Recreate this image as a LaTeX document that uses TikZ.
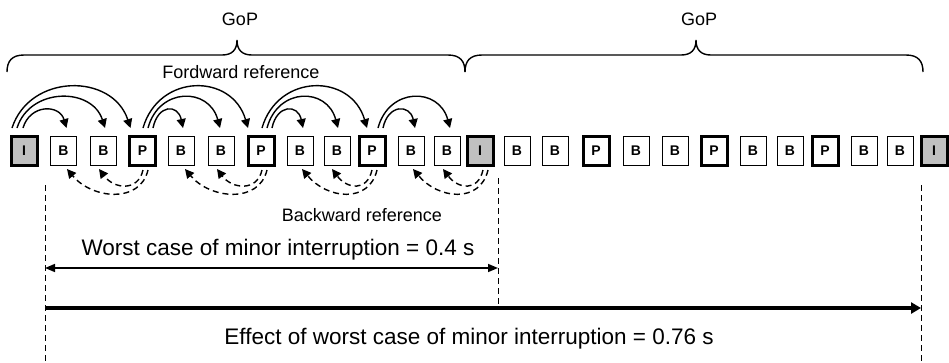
\documentclass[tikz,border=0pt]{standalone}
\usepackage{fontspec}
\setmainfont{Liberation Sans}
\usetikzlibrary{arrows.meta,calc}
\definecolor{igray}{RGB}{192,192,192}

% forward reference arc: source, start shift, target, end shift, control dx, control height
\newcommand\fwdarc[6]{\draw[fwd] ($(#1)+(#2,-23)$) .. controls +(#5,-#6) and +(-#5,-#6) .. ($(#3)+(#4,-23)$);}
% backward reference arc: source, start shift, target, end shift, first control, second control
\newcommand\bwdarc[8]{\draw[bwd] ($(#1)+(#2,19)$) .. controls +(#5,#6) and +(#7,#8) .. ($(#3)+(#4,18)$);}

\begin{document}
\begin{tikzpicture}[x=1pt,y=-1pt,
  frame/.style={draw, minimum width=26pt, minimum height=29pt, inner sep=0pt,
    font=\fontsize{14}{14}\selectfont\bfseries, line width=1pt},
  bfr/.style={frame},
  pfr/.style={frame, line width=3pt},
  ifr/.style={frame, line width=3pt, fill=igray},
  fwd/.style={line width=1.4pt, -{Triangle[length=9pt,width=9pt]}},
  bwd/.style={line width=1.4pt, dash pattern=on 6pt off 4pt, -{Triangle[length=9pt,width=9pt]}},
  guide/.style={line width=1pt, dash pattern=on 6pt off 4pt},
  lbl/.style={font=\fontsize{18}{18}\selectfont, inner sep=0pt},
  big/.style={font=\fontsize{22.5}{22.5}\selectfont, inner sep=0pt},
  brace/.style={line width=1.4pt}
]
\path[use as bounding box] (0,0) rectangle (949,362);

% frame sequence
\foreach \n/\x/\t/\l in {0/24/ifr/I, 1/63.5/bfr/B, 2/103.5/bfr/B, 3/142.5/pfr/P,
  4/181/bfr/B, 5/221/bfr/B, 6/261/pfr/P, 7/300/bfr/B, 8/337/bfr/B, 9/372/pfr/P,
  10/411/bfr/B, 11/447/bfr/B, 12/480/ifr/I, 13/517/bfr/B, 14/555/bfr/B, 15/596/pfr/P,
  16/636/bfr/B, 17/675/bfr/B, 18/714/pfr/P, 19/753/bfr/B, 20/790/bfr/B, 21/825/pfr/P,
  22/864/bfr/B, 23/900/bfr/B, 24/934/ifr/I}
  \node[\t] (f\n) at (\x,151) {\l};

% forward references
\fwdarc{f0}{-1}{f1}{3}{7}{24}
\fwdarc{f0}{-7}{f2}{1.5}{13}{41}
\fwdarc{f0}{-12}{f3}{-12}{18}{55}
\fwdarc{f3}{10.5}{f4}{2}{5}{24}
\fwdarc{f3}{5.5}{f5}{-1}{11}{41}
\fwdarc{f3}{0.5}{f6}{-13}{16}{55}
\fwdarc{f6}{11}{f7}{3}{5}{24}
\fwdarc{f6}{6}{f8}{1}{11}{41}
\fwdarc{f6}{1}{f9}{-5}{16}{55}
\fwdarc{f9}{11}{f10}{4}{5}{24}
\fwdarc{f9}{6}{f11}{3}{11}{41}

% backward references
\bwdarc{f3}{5.5}{f1}{3.5}{-8}{34}{25}{30}
\bwdarc{f3}{0.5}{f2}{-4.5}{-5}{22}{15}{20}
\bwdarc{f6}{6}{f4}{4}{-8}{34}{25}{30}
\bwdarc{f6}{1}{f5}{-4}{-5}{22}{15}{20}
\bwdarc{f9}{5}{f7}{2}{-8}{34}{25}{30}
\bwdarc{f9}{0}{f8}{-5}{-5}{22}{15}{20}
\bwdarc{f12}{8}{f10}{2}{-8}{34}{25}{30}
\bwdarc{f12}{3}{f11}{-4}{-5}{22}{15}{20}

% GoP braces
\draw[brace] (7,72) .. controls (7,61) and (12,55) .. (24,55) -- (222,55)
  .. controls (232,55) and (237,50) .. (237,40)
  .. controls (237,50) and (242,55) .. (252,55) -- (448,55)
  .. controls (460,55) and (465,61) .. (465,72);
\draw[brace] (465,72) .. controls (465,61) and (470,55) .. (482,55) -- (681,55)
  .. controls (691,55) and (696,50) .. (696,40)
  .. controls (696,50) and (701,55) .. (711,55) -- (906,55)
  .. controls (918,55) and (923,61) .. (923,72);

\node[lbl] (gop1) at (240,19) {GoP};
\node[lbl] (gop2) at (699,19) {GoP};
\node[lbl] (fwdl) at (241,72) {Fordward reference};
\node[lbl] (bwdl) at (362,215) {Backward reference};

% timing guides
\coordinate (gLt) at (45,185);  \coordinate (gLb) at (45,362);
\coordinate (gMt) at (498,178); \coordinate (gMb) at (498,308);
\coordinate (gRt) at (921,185); \coordinate (gRb) at (921,362);
\draw[guide] (gLt) -- (gLb);
\draw[guide] (gMt) -- (gMb);
\draw[guide] (gRt) -- (gRb);

\coordinate (wL) at (45,268); \coordinate (wR) at (498,268);
\draw[line width=1.6pt, {Triangle[length=10pt,width=8pt]}-{Triangle[length=10pt,width=8pt]}] (wL) -- (wR);
\coordinate (eL) at (45,308); \coordinate (eR) at (921,308);
\draw[line width=4pt, -{Triangle[length=10pt,width=11pt]}] (eL) -- (eR);

\node[big] (worst) at (278,250) {Worst case of minor interruption = 0.4 s};
\node[big] (effect) at (469,339) {Effect of worst case of minor interruption = 0.76 s};
\end{tikzpicture}
\end{document}
